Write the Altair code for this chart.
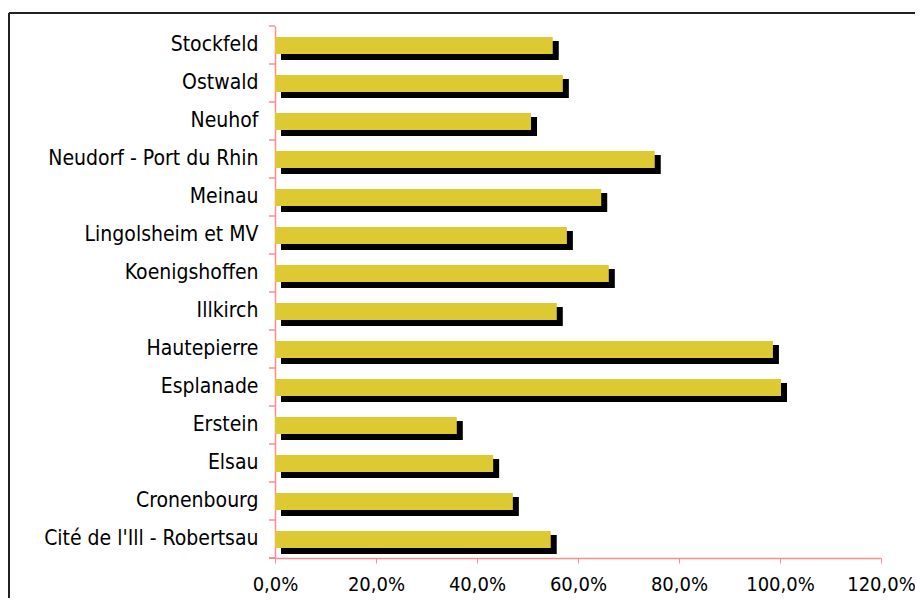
import altair as alt
import pandas as pd

categories = [
    "Stockfeld", "Ostwald", "Neuhof", "Neudorf - Port du Rhin", "Meinau",
    "Lingolsheim et MV", "Koenigshoffen", "Illkirch", "Hautepierre",
    "Esplanade", "Erstein", "Elsau", "Cronenbourg", "Cité de l'Ill - Robertsau",
]
values = [0.550, 0.570, 0.507, 0.752, 0.646, 0.578, 0.661, 0.558, 0.986,
          1.002, 0.360, 0.432, 0.471, 0.546]
x_ticks = [0.0, 0.2, 0.4, 0.6, 0.8, 1.0, 1.2]

df = pd.DataFrame({"cat": categories, "val": values})

FONT = "DejaVu Sans Condensed, DejaVu Sans, sans-serif"
PINK = "#FF8C8C"
YELLOW = "#DDCA32"

yscale = alt.Scale(domain=categories, paddingInner=0, paddingOuter=0)
xscale = alt.Scale(domain=[0, 1.2], nice=False)

base = alt.Chart(df)

shadow = base.mark_bar(color="black", size=19, yOffset=5.5, xOffset=6, x2Offset=4).encode(
    y=alt.Y("cat:N", scale=yscale, sort=categories,
            axis=alt.Axis(title=None, ticks=False, labelFont=FONT, labelFontSize=21,
                          labelColor="black", labelPadding=17, domainColor=PINK,
                          domainWidth=1.5, labelLimit=400)),
    x=alt.X("val:Q", scale=xscale,
            axis=alt.Axis(title=None, values=x_ticks, labelExpr="replace(format(datum.value, '.1%'), '.', ',')",
                          labelFont=FONT, labelFontSize=20, labelColor="black",
                          tickColor=PINK, tickSize=5, labelPadding=11, domainColor=PINK,
                          domainWidth=1.5, grid=False, labelFlush=False, labelOverlap=False,
                          labelLimit=400)),
)

bars = base.mark_bar(color=YELLOW, size=17, yOffset=0.5).encode(
    y=alt.Y("cat:N", scale=yscale, sort=categories),
    x=alt.X("val:Q", scale=xscale),
)

yticks = base.mark_rule(color=PINK, strokeWidth=1.5).encode(
    y=alt.Y("cat:N", scale=yscale, sort=categories, bandPosition=0),
    x=alt.value(-6), x2=alt.value(0),
)
ytick_last = base.mark_rule(color=PINK, strokeWidth=1.5).encode(
    y=alt.value(532), x=alt.value(-6), x2=alt.value(0),
)

border_top = base.mark_rule(color="#222222", strokeWidth=1.5).encode(
    x=alt.value(-266), x2=alt.value(700), y=alt.value(-13)
)
border_left = base.mark_rule(color="#222222", strokeWidth=1.5).encode(
    x=alt.value(-266), y=alt.value(-13), y2=alt.value(700)
)

chart = alt.layer(shadow, bars, yticks, ytick_last, border_top, border_left).properties(
    width=606, height=532,
    autosize=alt.AutoSizeParams(type="none"),
    padding={"left": 267, "top": 18, "right": 34, "bottom": 40},
    background="white",
).configure_view(strokeWidth=0, stroke="transparent")

chart.save("out.html", embed_options={"renderer": "svg", "actions": False})
